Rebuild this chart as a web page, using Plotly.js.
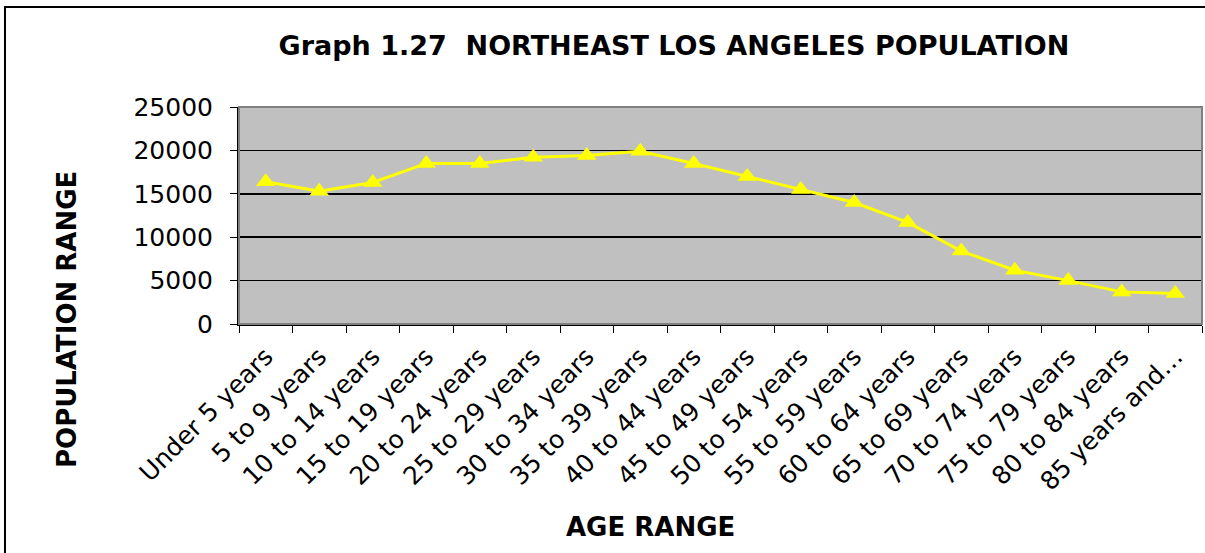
<!DOCTYPE html>
<html>
<head>
<meta charset="utf-8">
<script src="https://cdn.plot.ly/plotly-3.0.1.min.js"></script>
<style>html,body{margin:0;padding:0;background:#fff;}#chart{width:1205px;height:553px;}</style>
</head>
<body>
<div id="chart"></div>
<script>
var ageRanges = ["Under 5 years","5 to 9 years","10 to 14 years","15 to 19 years","20 to 24 years","25 to 29 years","30 to 34 years","35 to 39 years","40 to 44 years","45 to 49 years","50 to 54 years","55 to 59 years","60 to 64 years","65 to 69 years","70 to 74 years","75 to 79 years","80 to 84 years","85 years and\u2026"];
var population = [16400,15300,16300,18500,18500,19200,19400,19900,18500,17000,15500,14000,11700,8400,6200,5000,3700,3500];
var yTicks = [0,5000,10000,15000,20000,25000];

var font = "DejaVu Sans, Verdana, sans-serif";
var trace = {
  x: ageRanges, y: population, type: "scatter", mode: "lines+markers",
  line: {color: "#FFFF00", width: 3},
  marker: {symbol: "triangle-up", size: 17, color: "#FFFF00"},
  hoverinfo: "x+y"
};
var layout = {
  width: 1205, height: 553,
  margin: {l: 239, r: 3, t: 107, b: 229},
  paper_bgcolor: "#ffffff", plot_bgcolor: "#c0c0c0",
  showlegend: false,
  title: {text: "<b>Graph 1.27  NORTHEAST LOS ANGELES POPULATION</b>", font: {family: font, size: 27, color: "#000"}, x: 0.5593, xanchor: "center", y: 0.918, yanchor: "middle", xref: "container", yref: "container"},
  xaxis: {type: "category", range: [-0.5, 17.5], tickson: "boundaries", ticks: "outside", ticklen: 7, tickcolor: "#000", tickangle: -45, ticklabelstandoff: 6, showgrid: false, showline: true, linecolor: "#000", linewidth: 2, tickfont: {family: font, size: 25, color: "#000"}, fixedrange: true},
  yaxis: {range: [0, 25000], tickvals: yTicks, ticktext: yTicks.map(String), ticks: "outside", ticklen: 7, tickcolor: "#000", ticklabelstandoff: 12, showgrid: true, gridcolor: "#000", gridwidth: 1.5, zeroline: false, showline: true, linecolor: "#000", linewidth: 2, tickfont: {family: font, size: 25, color: "#000"}, fixedrange: true},
  shapes: [
    {type: "rect", xref: "paper", yref: "paper", x0: 0, x1: 1, y0: 0, y1: 1, line: {color: "#808080", width: 2}, layer: "above"},
    {type: "rect", xref: "paper", yref: "paper", x0: -0.243, x1: 1.02, y0: -1.2, y1: 1.4608, line: {color: "#000", width: 2}}
  ],
  annotations: [
    {text: "<b>AGE RANGE</b>", xref: "paper", yref: "paper", x: (650-239)/963, y: (324-527)/217, xanchor: "center", yanchor: "middle", showarrow: false, font: {family: font, size: 26, color: "#000"}},
    {text: "<b>POPULATION RANGE</b>", xref: "paper", yref: "paper", x: (67-239)/963, y: (324-320)/217, xanchor: "center", yanchor: "middle", textangle: -90, showarrow: false, font: {family: font, size: 26, color: "#000"}}
  ]
};
Plotly.newPlot("chart", [trace], layout, {displayModeBar: false, staticPlot: true});
</script>
</body>
</html>
